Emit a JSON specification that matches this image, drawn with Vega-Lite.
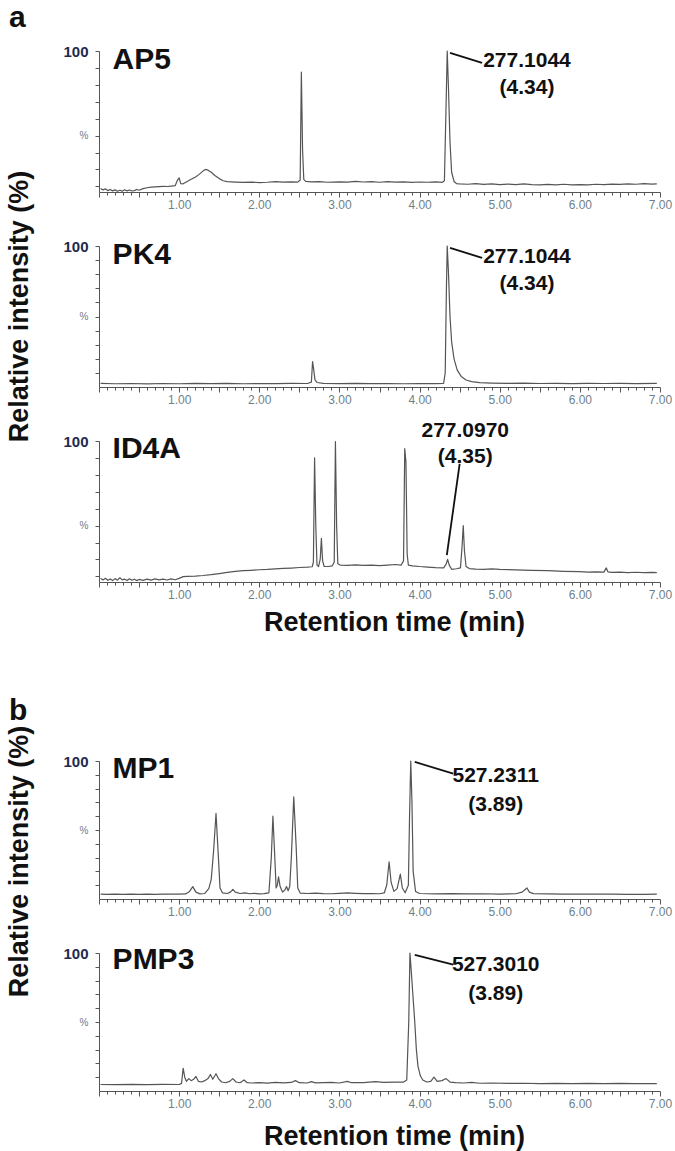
{
  "$schema": "https://vega.github.io/schema/vega-lite/v6.json",
  "padding": {"left": 4, "top": 3, "right": 5, "bottom": 5},
  "background": "white",
  "config": {
    "view": {"stroke": null},
    "font": "Liberation Sans",
    "axis": {"grid": false, "domainColor": "#555", "tickColor": "#555", "labelFont": "Liberation Sans", "titleFont": "Liberation Sans"},
    "title": {"font": "Liberation Sans", "fontSize": 30, "fontWeight": "bold", "color": "#111", "anchor": "start", "frame": "group"}
  },
  "datasets": {
    "AP5": [
      {"time": 0.02, "intensity": 2.5}, {"time": 0.05, "intensity": 1.5}, {"time": 0.08, "intensity": 2.2}, {"time": 0.11, "intensity": 1.0},
      {"time": 0.14, "intensity": 1.8}, {"time": 0.17, "intensity": 0.8}, {"time": 0.2, "intensity": 1.5}, {"time": 0.23, "intensity": 0.5},
      {"time": 0.26, "intensity": 1.2}, {"time": 0.29, "intensity": 0.6}, {"time": 0.32, "intensity": 1.6}, {"time": 0.35, "intensity": 0.8},
      {"time": 0.38, "intensity": 1.4}, {"time": 0.41, "intensity": 0.7}, {"time": 0.44, "intensity": 1.0}, {"time": 0.47, "intensity": 1.8},
      {"time": 0.5, "intensity": 1.2}, {"time": 0.55, "intensity": 2.4}, {"time": 0.6, "intensity": 3.0}, {"time": 0.65, "intensity": 3.4},
      {"time": 0.7, "intensity": 3.6}, {"time": 0.75, "intensity": 3.8}, {"time": 0.8, "intensity": 4.0}, {"time": 0.85, "intensity": 3.9},
      {"time": 0.9, "intensity": 4.2}, {"time": 0.95, "intensity": 4.5}, {"time": 0.98, "intensity": 8.5}, {"time": 1.0, "intensity": 10.0},
      {"time": 1.02, "intensity": 6.0}, {"time": 1.05, "intensity": 5.8}, {"time": 1.1, "intensity": 7.5}, {"time": 1.15, "intensity": 9.0},
      {"time": 1.2, "intensity": 10.5}, {"time": 1.25, "intensity": 12.5}, {"time": 1.3, "intensity": 15.0}, {"time": 1.33, "intensity": 16.0},
      {"time": 1.36, "intensity": 15.5}, {"time": 1.4, "intensity": 14.0}, {"time": 1.45, "intensity": 11.5}, {"time": 1.5, "intensity": 9.5},
      {"time": 1.55, "intensity": 8.0}, {"time": 1.6, "intensity": 7.3}, {"time": 1.7, "intensity": 7.0}, {"time": 1.8, "intensity": 6.8},
      {"time": 1.9, "intensity": 7.0}, {"time": 2.0, "intensity": 6.7}, {"time": 2.1, "intensity": 6.9}, {"time": 2.2, "intensity": 7.3},
      {"time": 2.3, "intensity": 7.0}, {"time": 2.4, "intensity": 7.2}, {"time": 2.48, "intensity": 7.0}, {"time": 2.51, "intensity": 8.5},
      {"time": 2.525, "intensity": 85}, {"time": 2.54, "intensity": 30}, {"time": 2.555, "intensity": 9}, {"time": 2.58, "intensity": 7.5},
      {"time": 2.65, "intensity": 7.2}, {"time": 2.75, "intensity": 7.4}, {"time": 2.85, "intensity": 6.9}, {"time": 3.0, "intensity": 7.2},
      {"time": 3.1, "intensity": 7.0}, {"time": 3.2, "intensity": 7.6}, {"time": 3.3, "intensity": 7.1}, {"time": 3.4, "intensity": 7.4},
      {"time": 3.5, "intensity": 6.9}, {"time": 3.6, "intensity": 7.3}, {"time": 3.7, "intensity": 7.0}, {"time": 3.8, "intensity": 7.2},
      {"time": 3.9, "intensity": 6.8}, {"time": 4.0, "intensity": 7.1}, {"time": 4.1, "intensity": 6.9}, {"time": 4.2, "intensity": 7.2},
      {"time": 4.28, "intensity": 6.8}, {"time": 4.31, "intensity": 8}, {"time": 4.33, "intensity": 60}, {"time": 4.345, "intensity": 100},
      {"time": 4.36, "intensity": 75}, {"time": 4.38, "intensity": 35}, {"time": 4.4, "intensity": 14}, {"time": 4.43, "intensity": 7.5},
      {"time": 4.46, "intensity": 6.0}, {"time": 4.5, "intensity": 5.8}, {"time": 4.6, "intensity": 5.5}, {"time": 4.7, "intensity": 5.9},
      {"time": 4.8, "intensity": 5.4}, {"time": 4.9, "intensity": 5.7}, {"time": 5.0, "intensity": 5.2}, {"time": 5.1, "intensity": 5.6},
      {"time": 5.2, "intensity": 5.3}, {"time": 5.3, "intensity": 5.7}, {"time": 5.4, "intensity": 5.2}, {"time": 5.5, "intensity": 5.0},
      {"time": 5.6, "intensity": 5.4}, {"time": 5.7, "intensity": 5.1}, {"time": 5.8, "intensity": 5.5}, {"time": 5.9, "intensity": 5.0},
      {"time": 6.0, "intensity": 5.3}, {"time": 6.1, "intensity": 5.0}, {"time": 6.2, "intensity": 5.5}, {"time": 6.3, "intensity": 5.2},
      {"time": 6.4, "intensity": 5.6}, {"time": 6.5, "intensity": 5.4}, {"time": 6.6, "intensity": 5.7}, {"time": 6.7, "intensity": 5.5},
      {"time": 6.8, "intensity": 5.9}, {"time": 6.9, "intensity": 5.6}, {"time": 6.96, "intensity": 5.8}
    ],
    "PK4": [
      {"time": 0.02, "intensity": 2.6}, {"time": 0.2, "intensity": 2.3}, {"time": 0.4, "intensity": 2.5}, {"time": 0.6, "intensity": 2.2},
      {"time": 0.8, "intensity": 2.5}, {"time": 1.0, "intensity": 2.3}, {"time": 1.2, "intensity": 2.6}, {"time": 1.4, "intensity": 2.4},
      {"time": 1.6, "intensity": 2.6}, {"time": 1.8, "intensity": 2.3}, {"time": 2.0, "intensity": 2.5}, {"time": 2.2, "intensity": 2.4},
      {"time": 2.4, "intensity": 2.6}, {"time": 2.6, "intensity": 2.5}, {"time": 2.65, "intensity": 3.5}, {"time": 2.665, "intensity": 18},
      {"time": 2.68, "intensity": 12}, {"time": 2.695, "intensity": 5}, {"time": 2.72, "intensity": 3.2}, {"time": 2.8, "intensity": 2.6},
      {"time": 3.0, "intensity": 2.4}, {"time": 3.2, "intensity": 2.6}, {"time": 3.4, "intensity": 2.4}, {"time": 3.6, "intensity": 2.5},
      {"time": 3.8, "intensity": 2.3}, {"time": 4.0, "intensity": 2.5}, {"time": 4.2, "intensity": 2.4}, {"time": 4.3, "intensity": 2.6},
      {"time": 4.32, "intensity": 10}, {"time": 4.335, "intensity": 70}, {"time": 4.345, "intensity": 100}, {"time": 4.36, "intensity": 82},
      {"time": 4.38, "intensity": 50}, {"time": 4.4, "intensity": 32}, {"time": 4.43, "intensity": 20}, {"time": 4.47, "intensity": 12},
      {"time": 4.52, "intensity": 7.5}, {"time": 4.58, "intensity": 5}, {"time": 4.65, "intensity": 3.8}, {"time": 4.75, "intensity": 3.1},
      {"time": 4.9, "intensity": 2.8}, {"time": 5.1, "intensity": 2.6}, {"time": 5.3, "intensity": 2.7}, {"time": 5.5, "intensity": 2.5},
      {"time": 5.7, "intensity": 2.6}, {"time": 5.9, "intensity": 2.4}, {"time": 6.1, "intensity": 2.6}, {"time": 6.3, "intensity": 2.5},
      {"time": 6.5, "intensity": 2.6}, {"time": 6.7, "intensity": 2.4}, {"time": 6.96, "intensity": 2.6}
    ],
    "ID4A": [
      {"time": 0.02, "intensity": 2.5}, {"time": 0.05, "intensity": 1.5}, {"time": 0.08, "intensity": 2.6}, {"time": 0.11, "intensity": 1.2},
      {"time": 0.14, "intensity": 2.2}, {"time": 0.17, "intensity": 1.0}, {"time": 0.2, "intensity": 2.4}, {"time": 0.23, "intensity": 1.3},
      {"time": 0.26, "intensity": 3.0}, {"time": 0.29, "intensity": 1.5}, {"time": 0.32, "intensity": 2.0}, {"time": 0.35, "intensity": 1.0},
      {"time": 0.38, "intensity": 2.3}, {"time": 0.41, "intensity": 1.2}, {"time": 0.44, "intensity": 2.0}, {"time": 0.47, "intensity": 1.0},
      {"time": 0.5, "intensity": 1.8}, {"time": 0.55, "intensity": 1.2}, {"time": 0.6, "intensity": 2.0}, {"time": 0.65, "intensity": 1.3},
      {"time": 0.7, "intensity": 2.2}, {"time": 0.75, "intensity": 1.5}, {"time": 0.8, "intensity": 2.0}, {"time": 0.85, "intensity": 1.4},
      {"time": 0.9, "intensity": 2.2}, {"time": 0.95, "intensity": 1.6}, {"time": 1.0, "intensity": 2.6}, {"time": 1.05, "intensity": 3.8},
      {"time": 1.1, "intensity": 4.0}, {"time": 1.2, "intensity": 4.2}, {"time": 1.3, "intensity": 4.6}, {"time": 1.4, "intensity": 5.2},
      {"time": 1.5, "intensity": 6.0}, {"time": 1.6, "intensity": 6.8}, {"time": 1.7, "intensity": 7.5}, {"time": 1.8, "intensity": 8.0},
      {"time": 1.9, "intensity": 8.3}, {"time": 2.0, "intensity": 8.7}, {"time": 2.1, "intensity": 8.9}, {"time": 2.2, "intensity": 9.3},
      {"time": 2.3, "intensity": 9.6}, {"time": 2.4, "intensity": 9.9}, {"time": 2.5, "intensity": 10.3}, {"time": 2.6, "intensity": 10.5},
      {"time": 2.66, "intensity": 10.8}, {"time": 2.675, "intensity": 14}, {"time": 2.69, "intensity": 88}, {"time": 2.705, "intensity": 40},
      {"time": 2.72, "intensity": 12}, {"time": 2.74, "intensity": 11}, {"time": 2.76, "intensity": 16}, {"time": 2.775, "intensity": 31},
      {"time": 2.79, "intensity": 15}, {"time": 2.81, "intensity": 11}, {"time": 2.86, "intensity": 11}, {"time": 2.91, "intensity": 11.5},
      {"time": 2.935, "intensity": 14}, {"time": 2.95, "intensity": 99.5}, {"time": 2.965, "intensity": 40}, {"time": 2.98, "intensity": 13},
      {"time": 3.01, "intensity": 12}, {"time": 3.1, "intensity": 11.8}, {"time": 3.2, "intensity": 12.2}, {"time": 3.3, "intensity": 11.8},
      {"time": 3.4, "intensity": 12}, {"time": 3.5, "intensity": 11.6}, {"time": 3.6, "intensity": 12}, {"time": 3.7, "intensity": 12.4},
      {"time": 3.77, "intensity": 12}, {"time": 3.8, "intensity": 15}, {"time": 3.815, "intensity": 94.6}, {"time": 3.83, "intensity": 85},
      {"time": 3.845, "intensity": 20}, {"time": 3.86, "intensity": 12}, {"time": 3.91, "intensity": 11.5}, {"time": 4.0, "intensity": 11},
      {"time": 4.1, "intensity": 10.6}, {"time": 4.2, "intensity": 10.2}, {"time": 4.3, "intensity": 10}, {"time": 4.33, "intensity": 12.5},
      {"time": 4.35, "intensity": 16}, {"time": 4.37, "intensity": 12}, {"time": 4.4, "intensity": 9}, {"time": 4.46, "intensity": 9.4},
      {"time": 4.51, "intensity": 10}, {"time": 4.53, "intensity": 25}, {"time": 4.545, "intensity": 40}, {"time": 4.56, "intensity": 22},
      {"time": 4.58, "intensity": 11}, {"time": 4.62, "intensity": 9.5}, {"time": 4.7, "intensity": 9.2}, {"time": 4.8, "intensity": 9.0},
      {"time": 4.9, "intensity": 9.3}, {"time": 5.0, "intensity": 8.9}, {"time": 5.2, "intensity": 8.6}, {"time": 5.4, "intensity": 8.3},
      {"time": 5.6, "intensity": 8.0}, {"time": 5.8, "intensity": 7.6}, {"time": 6.0, "intensity": 7.3}, {"time": 6.1, "intensity": 7.0},
      {"time": 6.2, "intensity": 7.2}, {"time": 6.3, "intensity": 7.0}, {"time": 6.33, "intensity": 10}, {"time": 6.35, "intensity": 7.2},
      {"time": 6.4, "intensity": 6.8}, {"time": 6.5, "intensity": 7.0}, {"time": 6.6, "intensity": 6.6}, {"time": 6.7, "intensity": 6.9},
      {"time": 6.8, "intensity": 6.6}, {"time": 6.9, "intensity": 6.8}, {"time": 6.96, "intensity": 6.7}
    ],
    "MP1": [
      {"time": 0.02, "intensity": 3.5}, {"time": 0.1, "intensity": 3.3}, {"time": 0.2, "intensity": 3.5}, {"time": 0.3, "intensity": 3.4},
      {"time": 0.4, "intensity": 3.5}, {"time": 0.5, "intensity": 3.3}, {"time": 0.6, "intensity": 3.5}, {"time": 0.7, "intensity": 3.4},
      {"time": 0.8, "intensity": 3.6}, {"time": 0.9, "intensity": 3.5}, {"time": 1.0, "intensity": 3.5}, {"time": 1.08, "intensity": 3.7},
      {"time": 1.13, "intensity": 5.5}, {"time": 1.17, "intensity": 9}, {"time": 1.21, "intensity": 5}, {"time": 1.26, "intensity": 3.7},
      {"time": 1.32, "intensity": 4}, {"time": 1.37, "intensity": 7.5}, {"time": 1.4, "intensity": 14}, {"time": 1.43, "intensity": 35},
      {"time": 1.46, "intensity": 62}, {"time": 1.49, "intensity": 30}, {"time": 1.51, "intensity": 8}, {"time": 1.54, "intensity": 4.5},
      {"time": 1.6, "intensity": 4}, {"time": 1.64, "intensity": 5}, {"time": 1.67, "intensity": 7}, {"time": 1.7, "intensity": 5},
      {"time": 1.76, "intensity": 4}, {"time": 1.82, "intensity": 4.5}, {"time": 1.88, "intensity": 3.8}, {"time": 1.94, "intensity": 4.1},
      {"time": 2.0, "intensity": 3.7}, {"time": 2.06, "intensity": 3.9}, {"time": 2.12, "intensity": 4.5}, {"time": 2.15, "intensity": 30},
      {"time": 2.17, "intensity": 60}, {"time": 2.19, "intensity": 35}, {"time": 2.21, "intensity": 8}, {"time": 2.225, "intensity": 10},
      {"time": 2.24, "intensity": 16}, {"time": 2.26, "intensity": 9}, {"time": 2.29, "intensity": 5}, {"time": 2.32, "intensity": 6.5},
      {"time": 2.34, "intensity": 9}, {"time": 2.36, "intensity": 6}, {"time": 2.38, "intensity": 9}, {"time": 2.4, "intensity": 30},
      {"time": 2.43, "intensity": 74}, {"time": 2.46, "intensity": 38}, {"time": 2.48, "intensity": 8}, {"time": 2.51, "intensity": 4.3},
      {"time": 2.6, "intensity": 4}, {"time": 2.7, "intensity": 4.3}, {"time": 2.8, "intensity": 3.9}, {"time": 2.9, "intensity": 3.8},
      {"time": 3.0, "intensity": 4.1}, {"time": 3.1, "intensity": 4.4}, {"time": 3.2, "intensity": 4.1}, {"time": 3.3, "intensity": 3.9},
      {"time": 3.4, "intensity": 4}, {"time": 3.5, "intensity": 3.8}, {"time": 3.56, "intensity": 4.5}, {"time": 3.59, "intensity": 10},
      {"time": 3.62, "intensity": 27}, {"time": 3.645, "intensity": 12}, {"time": 3.68, "intensity": 5.5}, {"time": 3.72, "intensity": 7.5},
      {"time": 3.76, "intensity": 18}, {"time": 3.785, "intensity": 8}, {"time": 3.82, "intensity": 4.5}, {"time": 3.86, "intensity": 10},
      {"time": 3.875, "intensity": 60}, {"time": 3.89, "intensity": 100}, {"time": 3.905, "intensity": 70}, {"time": 3.92, "intensity": 20},
      {"time": 3.95, "intensity": 5.5}, {"time": 4.0, "intensity": 4}, {"time": 4.2, "intensity": 3.7}, {"time": 4.4, "intensity": 3.9},
      {"time": 4.6, "intensity": 3.7}, {"time": 4.8, "intensity": 3.8}, {"time": 5.0, "intensity": 3.6}, {"time": 5.2, "intensity": 3.8},
      {"time": 5.28, "intensity": 5}, {"time": 5.31, "intensity": 6.5}, {"time": 5.34, "intensity": 8}, {"time": 5.37, "intensity": 5},
      {"time": 5.42, "intensity": 3.9}, {"time": 5.6, "intensity": 3.7}, {"time": 5.8, "intensity": 3.6}, {"time": 6.0, "intensity": 3.5},
      {"time": 6.2, "intensity": 3.6}, {"time": 6.4, "intensity": 3.5}, {"time": 6.6, "intensity": 3.3}, {"time": 6.8, "intensity": 3.4},
      {"time": 6.96, "intensity": 3.5}
    ],
    "PMP3": [
      {"time": 0.02, "intensity": 4.7}, {"time": 0.2, "intensity": 4.6}, {"time": 0.4, "intensity": 4.8}, {"time": 0.6, "intensity": 4.6},
      {"time": 0.8, "intensity": 4.8}, {"time": 1.0, "intensity": 4.7}, {"time": 1.03, "intensity": 5.5}, {"time": 1.05, "intensity": 16.5},
      {"time": 1.07, "intensity": 10}, {"time": 1.09, "intensity": 7}, {"time": 1.12, "intensity": 9}, {"time": 1.15, "intensity": 7.5},
      {"time": 1.18, "intensity": 8.5}, {"time": 1.21, "intensity": 10.5}, {"time": 1.24, "intensity": 7}, {"time": 1.28, "intensity": 6.5},
      {"time": 1.32, "intensity": 7.5}, {"time": 1.36, "intensity": 9}, {"time": 1.39, "intensity": 12}, {"time": 1.42, "intensity": 8.5},
      {"time": 1.46, "intensity": 12.5}, {"time": 1.49, "intensity": 9}, {"time": 1.53, "intensity": 6.5}, {"time": 1.58, "intensity": 6},
      {"time": 1.63, "intensity": 7}, {"time": 1.67, "intensity": 9}, {"time": 1.71, "intensity": 6.5}, {"time": 1.76, "intensity": 6},
      {"time": 1.81, "intensity": 8}, {"time": 1.85, "intensity": 6}, {"time": 1.9, "intensity": 5.8}, {"time": 2.0, "intensity": 6},
      {"time": 2.1, "intensity": 5.7}, {"time": 2.2, "intensity": 6.3}, {"time": 2.3, "intensity": 5.9}, {"time": 2.4, "intensity": 6.2},
      {"time": 2.45, "intensity": 7.5}, {"time": 2.5, "intensity": 6}, {"time": 2.6, "intensity": 5.8}, {"time": 2.65, "intensity": 6.8},
      {"time": 2.7, "intensity": 5.9}, {"time": 2.8, "intensity": 6.0}, {"time": 2.9, "intensity": 6.2}, {"time": 3.0, "intensity": 5.8},
      {"time": 3.1, "intensity": 7}, {"time": 3.15, "intensity": 6}, {"time": 3.3, "intensity": 6.1}, {"time": 3.45, "intensity": 6.8},
      {"time": 3.55, "intensity": 6.2}, {"time": 3.7, "intensity": 6.4}, {"time": 3.8, "intensity": 6.5}, {"time": 3.84, "intensity": 8},
      {"time": 3.865, "intensity": 50}, {"time": 3.88, "intensity": 100}, {"time": 3.895, "intensity": 88}, {"time": 3.91, "intensity": 75},
      {"time": 3.94, "intensity": 50}, {"time": 3.96, "intensity": 30}, {"time": 3.98, "intensity": 18}, {"time": 4.01, "intensity": 11},
      {"time": 4.04, "intensity": 8}, {"time": 4.09, "intensity": 6.5}, {"time": 4.14, "intensity": 7}, {"time": 4.18, "intensity": 10},
      {"time": 4.22, "intensity": 7}, {"time": 4.28, "intensity": 7.5}, {"time": 4.33, "intensity": 9}, {"time": 4.38, "intensity": 6.5},
      {"time": 4.45, "intensity": 6}, {"time": 4.55, "intensity": 5.8}, {"time": 4.65, "intensity": 6.2}, {"time": 4.75, "intensity": 5.6},
      {"time": 4.9, "intensity": 5.8}, {"time": 5.1, "intensity": 5.5}, {"time": 5.3, "intensity": 5.6}, {"time": 5.5, "intensity": 5.4},
      {"time": 5.7, "intensity": 5.5}, {"time": 5.9, "intensity": 5.3}, {"time": 6.1, "intensity": 5.5}, {"time": 6.3, "intensity": 5.4},
      {"time": 6.5, "intensity": 5.5}, {"time": 6.7, "intensity": 5.3}, {"time": 6.96, "intensity": 5.4}
    ],
    "leaders": [
      {"sample": "AP5", "time": 4.38, "intensity": 98.6, "time2": 4.78, "intensity2": 91.6},
      {"sample": "PK4", "time": 4.38, "intensity": 98.6, "time2": 4.78, "intensity2": 91.6},
      {"sample": "ID4A", "time": 4.5, "intensity": 83.8, "time2": 4.34, "intensity2": 19},
      {"sample": "MP1", "time": 3.94, "intensity": 99.3, "time2": 4.42, "intensity2": 90.8},
      {"sample": "PMP3", "time": 3.94, "intensity": 98.6, "time2": 4.42, "intensity2": 91.5}
    ],
    "labels": [
      {"sample": "AP5", "kind": "name", "text": "AP5", "time": 0.17, "intensity": 93.5},
      {"sample": "AP5", "kind": "peak", "text": "277.1044", "time": 5.34, "intensity": 93},
      {"sample": "AP5", "kind": "peak", "text": "(4.34)", "time": 5.34, "intensity": 74},
      {"sample": "PK4", "kind": "name", "text": "PK4", "time": 0.17, "intensity": 93.5},
      {"sample": "PK4", "kind": "peak", "text": "277.1044", "time": 5.34, "intensity": 92},
      {"sample": "PK4", "kind": "peak", "text": "(4.34)", "time": 5.34, "intensity": 73},
      {"sample": "ID4A", "kind": "name", "text": "ID4A", "time": 0.17, "intensity": 94},
      {"sample": "ID4A", "kind": "peak", "text": "277.0970", "time": 4.57, "intensity": 107},
      {"sample": "ID4A", "kind": "peak", "text": "(4.35)", "time": 4.57, "intensity": 89},
      {"sample": "MP1", "kind": "name", "text": "MP1", "time": 0.17, "intensity": 94},
      {"sample": "MP1", "kind": "peak", "text": "527.2311", "time": 4.95, "intensity": 89},
      {"sample": "MP1", "kind": "peak", "text": "(3.89)", "time": 4.95, "intensity": 68},
      {"sample": "PMP3", "kind": "name", "text": "PMP3", "time": 0.17, "intensity": 95},
      {"sample": "PMP3", "kind": "peak", "text": "527.3010", "time": 4.95, "intensity": 91},
      {"sample": "PMP3", "kind": "peak", "text": "(3.89)", "time": 4.95, "intensity": 70}
    ],
    "spacer": [{"time": 0, "intensity": 0}]
  },
  "spacing": 54,
  "bounds": "flush",
  "vconcat": [
    {
      "width": 561, "height": 141,
      "title": {"text": "a", "dx": -90, "offset": 11},
      "encoding": {
        "x": {"field": "time", "type": "quantitative", "scale": {"domain": [0, 7], "nice": false},
          "axis": {"values": [0,0.1,0.2,0.3,0.4,0.5,0.6,0.7,0.8,0.9,1,1.1,1.2,1.3,1.4,1.5,1.6,1.7,1.8,1.9,2,2.1,2.2,2.3,2.4,2.5,2.6,2.7,2.8,2.9,3,3.1,3.2,3.3,3.4,3.5,3.6,3.7,3.8,3.9,4,4.1,4.2,4.3,4.4,4.5,4.6,4.7,4.8,4.9,5,5.1,5.2,5.3,5.4,5.5,5.6,5.7,5.8,5.9,6,6.1,6.2,6.3,6.4,6.5,6.6,6.7,6.8,6.9,7],
            "labelExpr": "datum.value >= 0.99 && abs(datum.value - round(datum.value)) < 0.01 ? format(datum.value, '.2f') : ''",
            "labelOverlap": false, "labelFlush": false, "labelFontSize": 12, "labelColor": "#6f7f88", "labelPadding": 2,
            "tickSize": {"condition": {"test": "abs(datum.value*2 - round(datum.value*2)) < 0.01", "value": 5}, "value": 3},
            "title": null}},
        "y": {"field": "intensity", "type": "quantitative", "scale": {"domain": [0, 100], "nice": false},
          "axis": {"values": [4,16,28,40,52,64,76,88,100],
            "labelExpr": "datum.value == 100 ? '100' : datum.value == 40 ? '%' : ''",
            "labelFontSize": {"condition": {"test": "datum.value == 100", "value": 15}, "value": 10},
            "labelFontWeight": {"condition": {"test": "datum.value == 100", "value": "bold"}, "value": "normal"},
            "labelColor": {"condition": {"test": "datum.value == 100", "value": "#1d2a4d"}, "value": "#778"},
            "labelOverlap": false, "tickSize": 4, "labelPadding": 7, "title": null}}
      },
      "layer": [
        {"data": {"name": "AP5"}, "mark": {"type": "line", "color": "#555", "strokeWidth": 1.2, "strokeJoin": "round"}},
        {"data": {"name": "leaders"}, "transform": [{"filter": "datum.sample == 'AP5'"}],
         "mark": {"type": "rule", "color": "#111", "strokeWidth": 1.8},
         "encoding": {"x2": {"field": "time2"}, "y2": {"field": "intensity2"}}},
        {"data": {"name": "labels"}, "transform": [{"filter": "datum.sample == 'AP5' && datum.kind == 'peak'"}],
         "mark": {"type": "text", "align": "center", "baseline": "middle", "fontSize": 21, "fontWeight": "bold", "color": "#111"},
         "encoding": {"text": {"field": "text"}}},
        {"data": {"name": "labels"}, "transform": [{"filter": "datum.sample == 'AP5' && datum.kind == 'name'"}],
         "mark": {"type": "text", "align": "left", "baseline": "middle", "fontSize": 30, "fontWeight": "bold", "color": "#111"},
         "encoding": {"text": {"field": "text"}}}
      ]
    },
    {
      "width": 561, "height": 141,
      "encoding": {
        "x": {"field": "time", "type": "quantitative", "scale": {"domain": [0, 7], "nice": false},
          "axis": {"values": [0,0.1,0.2,0.3,0.4,0.5,0.6,0.7,0.8,0.9,1,1.1,1.2,1.3,1.4,1.5,1.6,1.7,1.8,1.9,2,2.1,2.2,2.3,2.4,2.5,2.6,2.7,2.8,2.9,3,3.1,3.2,3.3,3.4,3.5,3.6,3.7,3.8,3.9,4,4.1,4.2,4.3,4.4,4.5,4.6,4.7,4.8,4.9,5,5.1,5.2,5.3,5.4,5.5,5.6,5.7,5.8,5.9,6,6.1,6.2,6.3,6.4,6.5,6.6,6.7,6.8,6.9,7],
            "labelExpr": "datum.value >= 0.99 && abs(datum.value - round(datum.value)) < 0.01 ? format(datum.value, '.2f') : ''",
            "labelOverlap": false, "labelFlush": false, "labelFontSize": 12, "labelColor": "#6f7f88", "labelPadding": 2,
            "tickSize": {"condition": {"test": "abs(datum.value*2 - round(datum.value*2)) < 0.01", "value": 5}, "value": 3},
            "title": null}},
        "y": {"field": "intensity", "type": "quantitative", "scale": {"domain": [0, 100], "nice": false},
          "axis": {"values": [10,20,30,40,50,60,70,80,90,100],
            "labelExpr": "datum.value == 100 ? '100' : datum.value == 50 ? '%' : ''",
            "labelFontSize": {"condition": {"test": "datum.value == 100", "value": 15}, "value": 10},
            "labelFontWeight": {"condition": {"test": "datum.value == 100", "value": "bold"}, "value": "normal"},
            "labelColor": {"condition": {"test": "datum.value == 100", "value": "#1d2a4d"}, "value": "#778"},
            "labelOverlap": false, "tickSize": 4, "labelPadding": 7,
            "title": "Relative intensity (%)", "titleFontSize": 27, "titleFontWeight": "bold", "titleColor": "#111",
            "titleX": -80, "titleY": 60, "titleBaseline": "middle", "titleAlign": "center", "titleAngle": -90}}
      },
      "layer": [
        {"data": {"name": "PK4"}, "mark": {"type": "line", "color": "#555", "strokeWidth": 1.2, "strokeJoin": "round"}},
        {"data": {"name": "leaders"}, "transform": [{"filter": "datum.sample == 'PK4'"}],
         "mark": {"type": "rule", "color": "#111", "strokeWidth": 1.8},
         "encoding": {"x2": {"field": "time2"}, "y2": {"field": "intensity2"}}},
        {"data": {"name": "labels"}, "transform": [{"filter": "datum.sample == 'PK4' && datum.kind == 'peak'"}],
         "mark": {"type": "text", "align": "center", "baseline": "middle", "fontSize": 21, "fontWeight": "bold", "color": "#111"},
         "encoding": {"text": {"field": "text"}}},
        {"data": {"name": "labels"}, "transform": [{"filter": "datum.sample == 'PK4' && datum.kind == 'name'"}],
         "mark": {"type": "text", "align": "left", "baseline": "middle", "fontSize": 30, "fontWeight": "bold", "color": "#111"},
         "encoding": {"text": {"field": "text"}}}
      ]
    },
    {
      "width": 561, "height": 141,
      "encoding": {
        "x": {"field": "time", "type": "quantitative", "scale": {"domain": [0, 7], "nice": false},
          "axis": {"values": [0,0.1,0.2,0.3,0.4,0.5,0.6,0.7,0.8,0.9,1,1.1,1.2,1.3,1.4,1.5,1.6,1.7,1.8,1.9,2,2.1,2.2,2.3,2.4,2.5,2.6,2.7,2.8,2.9,3,3.1,3.2,3.3,3.4,3.5,3.6,3.7,3.8,3.9,4,4.1,4.2,4.3,4.4,4.5,4.6,4.7,4.8,4.9,5,5.1,5.2,5.3,5.4,5.5,5.6,5.7,5.8,5.9,6,6.1,6.2,6.3,6.4,6.5,6.6,6.7,6.8,6.9,7],
            "labelExpr": "datum.value >= 0.99 && abs(datum.value - round(datum.value)) < 0.01 ? format(datum.value, '.2f') : ''",
            "labelOverlap": false, "labelFlush": false, "labelFontSize": 12, "labelColor": "#6f7f88", "labelPadding": 2,
            "tickSize": {"condition": {"test": "abs(datum.value*2 - round(datum.value*2)) < 0.01", "value": 5}, "value": 3},
            "title": "Retention time (min)", "titleFontSize": 27, "titleFontWeight": "bold", "titleColor": "#111",
            "titleX": 295, "titleY": 40, "titleBaseline": "middle", "titleAlign": "center"}},
        "y": {"field": "intensity", "type": "quantitative", "scale": {"domain": [0, 100], "nice": false},
          "axis": {"values": [4,16,28,40,52,64,76,88,100],
            "labelExpr": "datum.value == 100 ? '100' : datum.value == 40 ? '%' : ''",
            "labelFontSize": {"condition": {"test": "datum.value == 100", "value": 15}, "value": 10},
            "labelFontWeight": {"condition": {"test": "datum.value == 100", "value": "bold"}, "value": "normal"},
            "labelColor": {"condition": {"test": "datum.value == 100", "value": "#1d2a4d"}, "value": "#778"},
            "labelOverlap": false, "tickSize": 4, "labelPadding": 7, "title": null}}
      },
      "layer": [
        {"data": {"name": "ID4A"}, "mark": {"type": "line", "color": "#555", "strokeWidth": 1.2, "strokeJoin": "round"}},
        {"data": {"name": "leaders"}, "transform": [{"filter": "datum.sample == 'ID4A'"}],
         "mark": {"type": "rule", "color": "#111", "strokeWidth": 1.8},
         "encoding": {"x2": {"field": "time2"}, "y2": {"field": "intensity2"}}},
        {"data": {"name": "labels"}, "transform": [{"filter": "datum.sample == 'ID4A' && datum.kind == 'peak'"}],
         "mark": {"type": "text", "align": "center", "baseline": "middle", "fontSize": 21, "fontWeight": "bold", "color": "#111"},
         "encoding": {"text": {"field": "text"}}},
        {"data": {"name": "labels"}, "transform": [{"filter": "datum.sample == 'ID4A' && datum.kind == 'name'"}],
         "mark": {"type": "text", "align": "left", "baseline": "middle", "fontSize": 30, "fontWeight": "bold", "color": "#111"},
         "encoding": {"text": {"field": "text"}}}
      ]
    },
    {
      "width": 561, "height": 71,
      "data": {"name": "spacer"},
      "mark": {"type": "point", "opacity": 0},
      "encoding": {
        "x": {"field": "time", "type": "quantitative", "axis": null},
        "y": {"field": "intensity", "type": "quantitative", "axis": null}
      }
    },
    {
      "width": 561, "height": 138,
      "title": {"text": "b", "dx": -90, "dy": 10, "offset": 9},
      "encoding": {
        "x": {"field": "time", "type": "quantitative", "scale": {"domain": [0, 7], "nice": false},
          "axis": {"values": [0,0.1,0.2,0.3,0.4,0.5,0.6,0.7,0.8,0.9,1,1.1,1.2,1.3,1.4,1.5,1.6,1.7,1.8,1.9,2,2.1,2.2,2.3,2.4,2.5,2.6,2.7,2.8,2.9,3,3.1,3.2,3.3,3.4,3.5,3.6,3.7,3.8,3.9,4,4.1,4.2,4.3,4.4,4.5,4.6,4.7,4.8,4.9,5,5.1,5.2,5.3,5.4,5.5,5.6,5.7,5.8,5.9,6,6.1,6.2,6.3,6.4,6.5,6.6,6.7,6.8,6.9,7],
            "labelExpr": "datum.value >= 0.99 && abs(datum.value - round(datum.value)) < 0.01 ? format(datum.value, '.2f') : ''",
            "labelOverlap": false, "labelFlush": false, "labelFontSize": 12, "labelColor": "#6f7f88", "labelPadding": 2,
            "tickSize": {"condition": {"test": "abs(datum.value*2 - round(datum.value*2)) < 0.01", "value": 5}, "value": 3},
            "title": null}},
        "y": {"field": "intensity", "type": "quantitative", "scale": {"domain": [0, 100], "nice": false},
          "axis": {"values": [10,20,30,40,50,60,70,80,90,100],
            "labelExpr": "datum.value == 100 ? '100' : datum.value == 50 ? '%' : ''",
            "labelFontSize": {"condition": {"test": "datum.value == 100", "value": 15}, "value": 10},
            "labelFontWeight": {"condition": {"test": "datum.value == 100", "value": "bold"}, "value": "normal"},
            "labelColor": {"condition": {"test": "datum.value == 100", "value": "#1d2a4d"}, "value": "#778"},
            "labelOverlap": false, "tickSize": 4, "labelPadding": 7,
            "title": "Relative intensity (%)", "titleFontSize": 27, "titleFontWeight": "bold", "titleColor": "#111",
            "titleX": -80, "titleY": 100, "titleBaseline": "middle", "titleAlign": "center", "titleAngle": -90}}
      },
      "layer": [
        {"data": {"name": "MP1"}, "mark": {"type": "line", "color": "#555", "strokeWidth": 1.2, "strokeJoin": "round"}},
        {"data": {"name": "leaders"}, "transform": [{"filter": "datum.sample == 'MP1'"}],
         "mark": {"type": "rule", "color": "#111", "strokeWidth": 1.8},
         "encoding": {"x2": {"field": "time2"}, "y2": {"field": "intensity2"}}},
        {"data": {"name": "labels"}, "transform": [{"filter": "datum.sample == 'MP1' && datum.kind == 'peak'"}],
         "mark": {"type": "text", "align": "center", "baseline": "middle", "fontSize": 21, "fontWeight": "bold", "color": "#111"},
         "encoding": {"text": {"field": "text"}}},
        {"data": {"name": "labels"}, "transform": [{"filter": "datum.sample == 'MP1' && datum.kind == 'name'"}],
         "mark": {"type": "text", "align": "left", "baseline": "middle", "fontSize": 30, "fontWeight": "bold", "color": "#111"},
         "encoding": {"text": {"field": "text"}}}
      ]
    },
    {
      "width": 561, "height": 138,
      "encoding": {
        "x": {"field": "time", "type": "quantitative", "scale": {"domain": [0, 7], "nice": false},
          "axis": {"values": [0,0.1,0.2,0.3,0.4,0.5,0.6,0.7,0.8,0.9,1,1.1,1.2,1.3,1.4,1.5,1.6,1.7,1.8,1.9,2,2.1,2.2,2.3,2.4,2.5,2.6,2.7,2.8,2.9,3,3.1,3.2,3.3,3.4,3.5,3.6,3.7,3.8,3.9,4,4.1,4.2,4.3,4.4,4.5,4.6,4.7,4.8,4.9,5,5.1,5.2,5.3,5.4,5.5,5.6,5.7,5.8,5.9,6,6.1,6.2,6.3,6.4,6.5,6.6,6.7,6.8,6.9,7],
            "labelExpr": "datum.value >= 0.99 && abs(datum.value - round(datum.value)) < 0.01 ? format(datum.value, '.2f') : ''",
            "labelOverlap": false, "labelFlush": false, "labelFontSize": 12, "labelColor": "#6f7f88", "labelPadding": 2,
            "tickSize": {"condition": {"test": "abs(datum.value*2 - round(datum.value*2)) < 0.01", "value": 5}, "value": 3},
            "title": "Retention time (min)", "titleFontSize": 27, "titleFontWeight": "bold", "titleColor": "#111",
            "titleX": 295, "titleY": 45, "titleBaseline": "middle", "titleAlign": "center"}},
        "y": {"field": "intensity", "type": "quantitative", "scale": {"domain": [0, 100], "nice": false},
          "axis": {"values": [10,20,30,40,50,60,70,80,90,100],
            "labelExpr": "datum.value == 100 ? '100' : datum.value == 50 ? '%' : ''",
            "labelFontSize": {"condition": {"test": "datum.value == 100", "value": 15}, "value": 10},
            "labelFontWeight": {"condition": {"test": "datum.value == 100", "value": "bold"}, "value": "normal"},
            "labelColor": {"condition": {"test": "datum.value == 100", "value": "#1d2a4d"}, "value": "#778"},
            "labelOverlap": false, "tickSize": 4, "labelPadding": 7, "title": null}}
      },
      "layer": [
        {"data": {"name": "PMP3"}, "mark": {"type": "line", "color": "#555", "strokeWidth": 1.2, "strokeJoin": "round"}},
        {"data": {"name": "leaders"}, "transform": [{"filter": "datum.sample == 'PMP3'"}],
         "mark": {"type": "rule", "color": "#111", "strokeWidth": 1.8},
         "encoding": {"x2": {"field": "time2"}, "y2": {"field": "intensity2"}}},
        {"data": {"name": "labels"}, "transform": [{"filter": "datum.sample == 'PMP3' && datum.kind == 'peak'"}],
         "mark": {"type": "text", "align": "center", "baseline": "middle", "fontSize": 21, "fontWeight": "bold", "color": "#111"},
         "encoding": {"text": {"field": "text"}}},
        {"data": {"name": "labels"}, "transform": [{"filter": "datum.sample == 'PMP3' && datum.kind == 'name'"}],
         "mark": {"type": "text", "align": "left", "baseline": "middle", "fontSize": 30, "fontWeight": "bold", "color": "#111"},
         "encoding": {"text": {"field": "text"}}}
      ]
    }
  ]
}
